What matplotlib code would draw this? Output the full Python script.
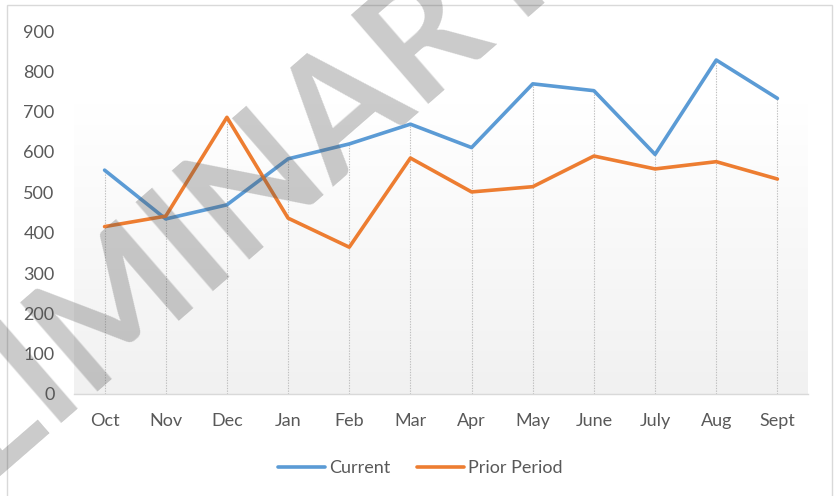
import numpy as np
import matplotlib
matplotlib.use("Agg")
import matplotlib.pyplot as plt
from matplotlib.patches import Rectangle
from matplotlib.textpath import TextPath
from matplotlib.font_manager import FontProperties

# data
months = ["Oct", "Nov", "Dec", "Jan", "Feb", "Mar", "Apr", "May", "June", "July", "Aug", "Sept"]
current = [555, 434, 469, 583, 620, 669, 611, 769, 752, 594, 828, 733]
prior_period = [415, 441, 686, 436, 364, 585, 501, 514, 590, 558, 576, 533]
yticks = [0, 100, 200, 300, 400, 500, 600, 700, 800, 900]

plt.rcParams['font.family'] = ['Lato', 'DejaVu Sans']
txt_col = '#595959'

W, H = 837, 496
fig = plt.figure(figsize=(W/100, H/100), dpi=100)
ax = fig.add_axes([74/W, 1-394/H, (808-74)/W, (394-31)/H])

x = np.arange(len(months))
ax.set_xlim(-0.5, len(months)-0.5)
ax.set_ylim(0, 900)

# plot area gradient: white at top, light grey at bottom
grad = np.linspace(0, 1, 256).reshape(-1, 1)
shade = 1 - 0.055 * np.clip((grad - 0.2) / 0.8, 0, 1)
ax.imshow(np.dstack([shade, shade, shade]), extent=[-0.5, len(months)-0.5, 0, 900],
          aspect='auto', origin='upper', zorder=0)

# drop lines down from the highest point
tops = np.maximum(current, prior_period)
ax.vlines(x, 0, tops, colors='#BFBFBF', linestyles=(0, (1.2, 1.2)), linewidth=0.8, zorder=1)

ax.plot(x, current, color='#5B9BD5', lw=2.6, label='Current', zorder=3,
        solid_joinstyle='round', solid_capstyle='round')
ax.plot(x, prior_period, color='#ED7D31', lw=2.6, label='Prior Period', zorder=3,
        solid_joinstyle='round', solid_capstyle='round')

for s in ['top', 'right', 'left']:
    ax.spines[s].set_visible(False)
ax.spines['bottom'].set_color('#D9D9D9')
ax.spines['bottom'].set_linewidth(1.0)

ax.set_xticks(x)
ax.set_xticklabels(months)
ax.set_yticks(yticks)
ax.tick_params(axis='both', length=0, labelsize=13, colors=txt_col)
ax.tick_params(axis='y', pad=14)
ax.tick_params(axis='x', pad=14)

leg = fig.legend(loc='center', bbox_to_anchor=(0.502, 1-468/H), ncol=2, frameon=False,
                 fontsize=13, handlelength=2.6, handletextpad=0.2, columnspacing=1.5)
for t in leg.get_texts():
    t.set_color(txt_col)

# outer chart border
fig.patches.append(Rectangle((7/W, -0.05), (832-7)/W, 1.05-5/H, transform=fig.transFigure,
                             fill=False, edgecolor='#D9D9D9', linewidth=1.0))

# watermark: place it so the centre of the "M" sits where it is in the reference
wm = 'PRELIMINARY'
wm_px = 162
wm_angle = 41
fp = FontProperties(family='Lato', weight='bold')
x_a = TextPath((0, 0), 'PRELI', size=wm_px, prop=fp).get_extents().x1
x_b = TextPath((0, 0), 'PRELIM', size=wm_px, prop=fp).get_extents().x1
cap = TextPath((0, 0), 'M', size=wm_px, prop=fp).get_extents().y1
mx, my = (x_a + x_b) / 2, cap / 2
th = np.radians(wm_angle)
cx, cy = 95, H - 305
x0 = cx - (mx*np.cos(th) - my*np.sin(th))
y0 = cy - (mx*np.sin(th) + my*np.cos(th))
fig.text(x0/W, y0/H, wm, rotation=wm_angle, rotation_mode='anchor', ha='left', va='baseline',
         fontsize=wm_px*72/100, fontweight='bold', color='#555555', alpha=0.31, zorder=10)

fig.savefig('out.png', dpi=100)
